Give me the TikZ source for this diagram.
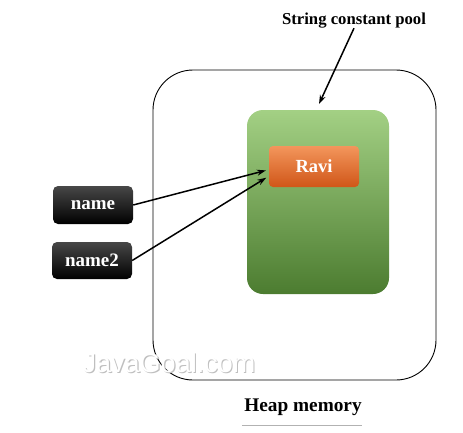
\documentclass[tikz,border=0pt]{standalone}
\usepackage{fontspec}
\setmainfont{Liberation Serif}
\newfontfamily\wmfont{Liberation Sans}
\usetikzlibrary{arrows.meta}
\definecolor{pooltop}{RGB}{163,208,132}
\definecolor{poolbot}{RGB}{76,124,48}
\definecolor{ravitop}{RGB}{243,150,92}
\definecolor{ravibot}{RGB}{208,86,24}
\begin{document}
\begin{tikzpicture}[x=1pt,y=-1pt,
	varbox/.style={rectangle,rounded corners=5pt,top color=black!72,bottom color=black,
		minimum width=80pt,text=white,font=\bfseries\fontsize{19}{19}\selectfont},
	refarrow/.style={-{Stealth[length=9pt,width=6pt]},line width=1.5pt,black}]
	\useasboundingbox (0,0) rectangle (463,432);
	% Heap
	\node[draw,line width=0.9pt,rounded corners=40pt,minimum width=283pt,minimum height=310pt] (heap) at (294.5,225) {};
	% watermark
	\node[text=black!25,font=\wmfont\fontsize{27}{27}\selectfont] at (170.2,364.2) {JavaGoal.com};
	\node[text=white,font=\wmfont\fontsize{27}{27}\selectfont] (mark) at (169,363) {JavaGoal.com};
	% Pool -> rounded green box
	\node[rectangle,rounded corners=16pt,top color=pooltop,bottom color=poolbot,
		minimum width=142pt,minimum height=184pt] (pool) at (318,202) {};
	\node[rectangle,rounded corners=4pt,top color=ravitop,bottom color=ravibot,
		minimum width=90pt,minimum height=41pt,text=white,
		font=\bfseries\fontsize{18.5}{18.5}\selectfont] (Ravi) at (314,166.5) {Ravi};
	% Variables
	\node[varbox,minimum height=38pt] (name) at (93,205) {name};
	\node[varbox,minimum height=37pt] (name2) at (92,260.5) {name2};
	% labels
	\node[font=\bfseries\fontsize{16.7}{16.7}\selectfont] (poolname) at (354,21) {String constant pool};
	\node[font=\bfseries\fontsize{19.3}{19.3}\selectfont] (heapname) at (303,407) {Heap memory};
	\draw[black!30] ([xshift=1pt,yshift=-6pt]heapname.south west) -- ([xshift=-3pt,yshift=-6pt]heapname.south east);
	% arrows
	\coordinate (tip) at (319,104);
	\draw[refarrow] ([yshift=4pt]poolname.south) -- (tip);
	\draw[refarrow,shorten >=3pt] (name.east) -- (Ravi.184);
	\draw[refarrow,shorten >=3pt] (name2.east) -- (Ravi.192);
\end{tikzpicture}
\end{document}
